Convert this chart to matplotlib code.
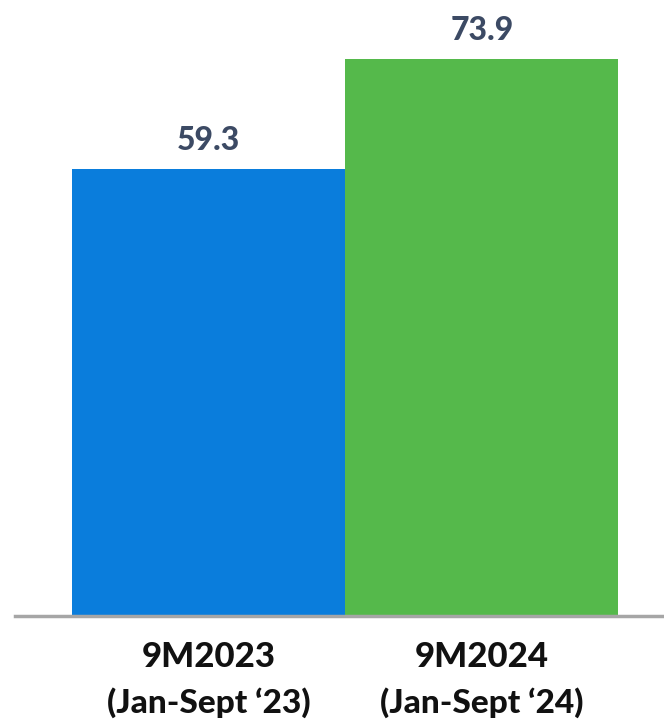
import matplotlib
matplotlib.use("Agg")
import matplotlib.pyplot as plt

categories = ["9M2023", "9M2024"]
subtitles = ["(Jan-Sept \u201823)", "(Jan-Sept \u201824)"]
values = [59.3, 73.9]
colors = ["#0A7DDC", "#55B94B"]

fig = plt.figure(figsize=(6.64, 7.2), dpi=100)
ax = fig.add_axes([15/664, 104/720, 649/664, 616/720])
x = list(range(len(values)))
ax.bar(x, values, width=1.0, color=colors, zorder=2)
ax.set_xlim(-0.709, 1.667)
ax.set_ylim(0, 616/7.54)
for s in ["top", "right", "left"]:
    ax.spines[s].set_visible(False)
ax.spines["bottom"].set_color("#A6A6A6")
ax.spines["bottom"].set_linewidth(2.5)
ax.spines["bottom"].set_zorder(3)
ax.set_yticks([])
ax.set_xticks([])

for xi, v in zip(x, values):
    ax.annotate(f"{v:.1f}", (xi, v), xytext=(0, 28), textcoords="offset pixels",
                ha="center", va="center", fontsize=23, fontfamily="Lato",
                fontweight="black", color="#3C4A64")

for xi, c, s in zip(x, categories, subtitles):
    ax.annotate(c, (xi, 0), xytext=(0, -41), textcoords="offset pixels",
                ha="center", va="center", fontsize=25, fontfamily="Lato",
                fontweight="black", color="#111111", annotation_clip=False)
    ax.annotate(s, (xi, 0), xytext=(0, -87), textcoords="offset pixels",
                ha="center", va="center", fontsize=24, fontfamily="Lato",
                fontweight="black", color="#111111", annotation_clip=False)

fig.savefig("out.png", dpi=100)
